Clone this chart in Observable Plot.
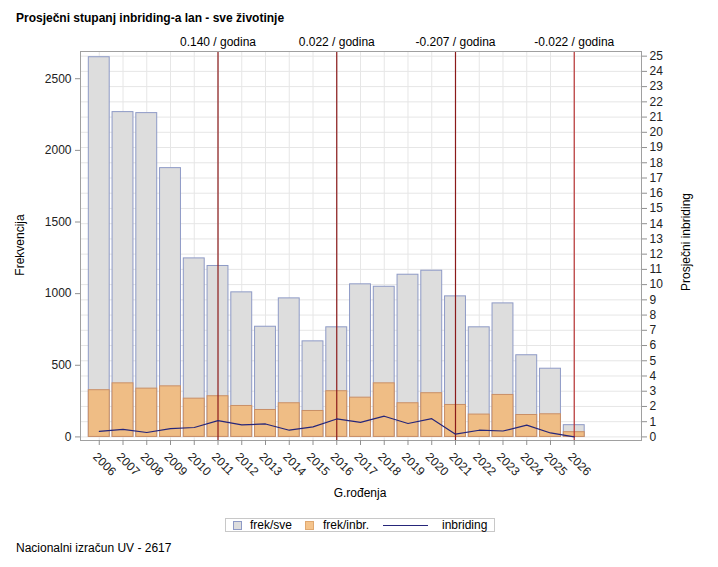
<!DOCTYPE html>
<html>
<head>
<meta charset="utf-8">
<script src="https://cdn.jsdelivr.net/npm/d3@7"></script>
<script src="https://cdn.jsdelivr.net/npm/@observablehq/plot@0.6"></script>
<style>
  body { margin: 0; background: #fff; font-family: Arial, "Liberation Sans", sans-serif; color: #000; }
  .abs { position: absolute; white-space: nowrap; line-height: 14px; font-size: 12px; }
  #title { left: 16px; top: 11px; font-weight: bold; }
  #chart { position: absolute; left: 0; top: 30px; }
  .rot { transform: translate(-50%, -50%) rotate(-90deg); }
  .ctr { transform: translate(-50%, -50%); }
  #legend { position: absolute; left: 225px; top: 518px; width: 270px; height: 14px; border: 1px solid #c8c8c8; box-sizing: border-box; font-size: 12px; }
  .sw { position: absolute; top: 2px; width: 9px; height: 9px; box-sizing: border-box; }
  .lt { position: absolute; top: -1px; line-height: 14px; }
  .ln { position: absolute; top: 6px; height: 0; border-top: 1.3px solid #26267a; }
</style>
</head>
<body>
<div id="title" class="abs">Prosječni stupanj inbriding-a lan - sve životinje</div>
<div id="chart"></div>
<div class="abs rot" style="left:20px; top:245px;">Frekvencija</div>
<div class="abs rot" style="left:686px; top:242px;">Prosječni inbriding</div>
<div class="abs ctr" style="left:360px; top:493px;">G.rođenja</div>
<div id="legend">
  <div class="sw" style="left:7px; background:#dddddd; border:1px solid #8e9ac6;"></div>
  <div class="lt" style="left:24px;">frek/sve</div>
  <div class="sw" style="left:79px; background:#f5c48c; border:1px solid #e0a870;"></div>
  <div class="lt" style="left:97px;">frek/inbr.</div>
  <div class="ln" style="left:157px; width:45px;"></div>
  <div class="lt" style="left:216px;">inbriding</div>
</div>
<div class="abs" style="left:16px; top:541px;">Nacionalni izračun UV - 2617</div>
<script>
// ---- data ----
const years = [2006, 2007, 2008, 2009, 2010, 2011, 2012, 2013, 2014, 2015, 2016,
               2017, 2018, 2019, 2020, 2021, 2022, 2023, 2024, 2025, 2026];
const emptyYears = [2027, 2028];
const frekSve  = [2650, 2267, 2260, 1876, 1246, 1193, 1009, 769, 967, 667, 765,
                  1065, 1048, 1132, 1160, 981, 765, 932, 570, 476, 82];
const frekInbr = [326, 374, 337, 353, 267, 284, 216, 188, 235, 181, 319,
                  274, 374, 235, 305, 223, 156, 293, 153, 158, 33];
const inbriding = [0.37, 0.50, 0.29, 0.55, 0.62, 1.07, 0.79, 0.85, 0.44, 0.66, 1.18,
                   0.96, 1.36, 0.88, 1.20, 0.18, 0.44, 0.39, 0.77, 0.26, 0.00];
const trendYears = [2011, 2016, 2021, 2026];
const trendLabels = ["0.140 / godina", "0.022 / godina", "-0.207 / godina", "-0.022 / godina"];
const leftTicks = [0, 500, 1000, 1500, 2000, 2500];
const rightTicks = [0, 1, 2, 3, 4, 5, 6, 7, 8, 9, 10, 11, 12, 13, 14, 15, 16, 17, 18, 19, 20, 21, 22, 23, 24, 25];

// ---- derived ----
const yMax = 2690, yMin = -25;
const k = 106.3; // right axis (inbriding) -> left axis (frekvencija) units
const rows = years.map((yr, i) => ({year: yr, sve: frekSve[i], inbr: frekInbr[i], inb: inbriding[i]}));
const trends = trendYears.map((yr, i) => ({year: yr, label: trendLabels[i]}));

const chart = Plot.plot({
  width: 718,
  height: 475,
  marginLeft: 80,
  marginRight: 77,
  marginTop: 21,
  marginBottom: 65,
  style: {fontFamily: "Arial, 'Liberation Sans', sans-serif", fontSize: "12px", color: "#000", background: "transparent"},
  x: {type: "band", domain: years.concat(emptyYears), range: [80, 640], round: false,
      paddingInner: 0.12, paddingOuter: 0.35, axis: null},
  y: {domain: [yMin, yMax], axis: null},
  marks: [
    Plot.gridX(years, {stroke: "#e6e6e6", strokeOpacity: 1}),
    Plot.gridY(rightTicks.map(t => t * k), {stroke: "#e6e6e6", strokeOpacity: 1}),
    Plot.barY(rows, {x: "year", y: "sve", fill: "#dddddd", stroke: "#8e9ac6", strokeWidth: 1}),
    Plot.barY(rows, {x: "year", y: "inbr", fill: "#efbd85", stroke: "#c98f66", strokeWidth: 1}),
    Plot.ruleX(trendYears.slice(0, 3), {stroke: "#8b1a1a", strokeWidth: 1.2}),
    Plot.ruleX(trendYears.slice(3), {stroke: "#b93535", strokeWidth: 1.2}),
    Plot.line(rows, {x: "year", y: d => d.inb * k, stroke: "#26267a", strokeWidth: 1.2}),
    Plot.text(trends, {x: "year", text: "label", frameAnchor: "top", dy: -14, fill: "#000"}),
    Plot.frame({stroke: "#a0a0a0"}),
    Plot.axisY({ticks: leftTicks, tickFormat: d => String(d), tickSize: 5, tickPadding: 4,
                label: null, stroke: "#909090", fill: "#222"}),
    Plot.axisY({anchor: "right", ticks: rightTicks.map(t => t * k), tickFormat: v => String(Math.round(v / k)),
                tickSize: 5, tickPadding: 3, label: null, stroke: "#909090", fill: "#222"}),
    Plot.axisX({ticks: years, tickSize: 5, tickFormat: () => "", label: null, stroke: "#909090"}),
    Plot.text(years, {x: d => d, text: d => String(d), frameAnchor: "bottom", rotate: 45,
                      textAnchor: "start", lineAnchor: "bottom", dx: -7, dy: 17, fill: "#222"})
  ]
});
document.getElementById("chart").appendChild(chart);
</script>
</body>
</html>
